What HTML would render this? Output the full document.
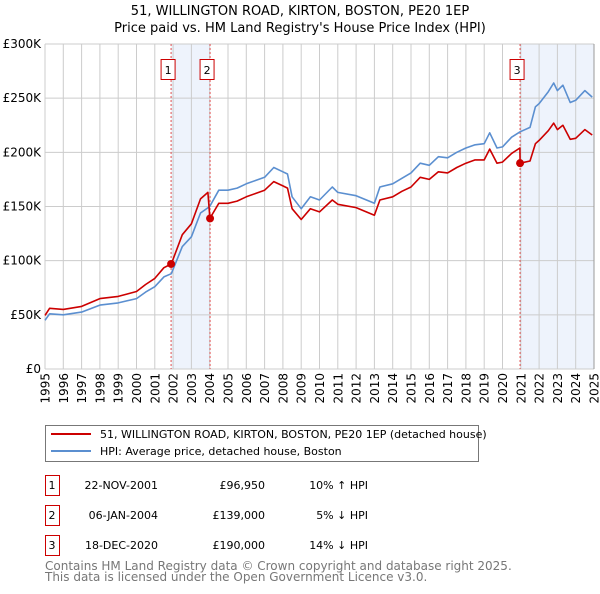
<!DOCTYPE html>
<html><head><meta charset="utf-8"><style>
body{margin:0;background:#fff;font-family:"DejaVu Sans","Liberation Sans",sans-serif;}
svg text{font-family:"DejaVu Sans","Liberation Sans",sans-serif;}
</style></head><body>
<svg id="chart" width="600" height="590" viewBox="0 0 600 590" xmlns="http://www.w3.org/2000/svg">
<text x="300" y="15" text-anchor="middle" font-size="13">51, WILLINGTON ROAD, KIRTON, BOSTON, PE20 1EP</text>
<text x="300" y="32" text-anchor="middle" font-size="13">Price paid vs. HM Land Registry's House Price Index (HPI)</text>
<g id="plot"></g>
<g>
<rect x="45.5" y="425.5" width="433" height="36" fill="#fff" stroke="#777" stroke-width="1"/>
<line x1="51" y1="434" x2="91" y2="434" stroke="#cc0000" stroke-width="2"/>
<text x="100" y="438" font-size="11">51, WILLINGTON ROAD, KIRTON, BOSTON, PE20 1EP (detached house)</text>
<line x1="51" y1="451" x2="91" y2="451" stroke="#5b8fd0" stroke-width="2"/>
<text x="100" y="455" font-size="11">HPI: Average price, detached house, Boston</text>
</g>
<g id="table" font-size="11"></g>
<text x="45" y="570" font-size="12" fill="#777">Contains HM Land Registry data © Crown copyright and database right 2025.</text>
<text x="45" y="581" font-size="12" fill="#777">This data is licensed under the Open Government Licence v3.0.</text>
</svg>
<script>
const hpiYears=[1995,1995.25,1996,1997,1998,1999,2000,2000.5,2001,2001.5,2001.9,2002.5,2003,2003.5,2004,2004.5,2005,2005.5,2006,2006.5,2007,2007.5,2008,2008.25,2008.5,2009,2009.5,2010,2010.7,2011,2012,2013,2013.3,2014,2014.5,2015,2015.5,2016,2016.5,2017,2017.5,2018,2018.5,2019,2019.3,2019.7,2020,2020.5,2020.96,2021.5,2021.8,2022,2022.5,2022.8,2023,2023.3,2023.7,2024,2024.5,2024.9];
const hpiValues=[45,51,50,52.5,59,61,65,71,76,85,88,113,122,144,150,165,165,167,171,174,177,186,182,180,159,148,159,156,168,163,160,153,168,171,176,181,190,188,196,195,200,204,207,208,218,204,205,214,219,223,242,245,256,264,257,262,246,248,257,251];
const priceYears=[1995,1995.25,1996,1997,1998,1999,2000,2000.5,2001,2001.5,2001.9,2002.5,2003,2003.5,2003.9,2004.01,2004.5,2005,2005.5,2006,2006.5,2007,2007.5,2008,2008.25,2008.5,2009,2009.5,2010,2010.7,2011,2012,2013,2013.3,2014,2014.5,2015,2015.5,2016,2016.5,2017,2017.5,2018,2018.5,2019,2019.3,2019.7,2020,2020.5,2020.95,2020.96,2021.5,2021.8,2022,2022.5,2022.8,2023,2023.3,2023.7,2024,2024.5,2024.9];
const priceValues=[49.5,56,55,57.8,65,67,71.5,78,83.6,93.5,96.95,124,134,157,163,139,153,153,155,159,162,165,173,169,167,148,138,148,145,156,152,149,142,156,159,164,168,177,175,182,181,186,190,193,193,203,190,191,199,204,190,192,208,211,220,227,221,225,212,213,221,216];
const saleYears=[2001.89,2004.02,2020.96];
const salePrices=[96.95,139,190];
const saleLabels=["1","2","3"];
const saleDates=["22-NOV-2001","06-JAN-2004","18-DEC-2020"];
const salePriceText=["£96,950","£139,000","£190,000"];
const saleHpiText=["10% ↑ HPI","5% ↓ HPI","14% ↓ HPI"];
const yTicks=[0,50,100,150,200,250,300];
const yTickLabels=["£0","£50K","£100K","£150K","£200K","£250K","£300K"];
const xTicks=[1995,1996,1997,1998,1999,2000,2001,2002,2003,2004,2005,2006,2007,2008,2009,2010,2011,2012,2013,2014,2015,2016,2017,2018,2019,2020,2021,2022,2023,2024,2025];

const NS="http://www.w3.org/2000/svg";
const X0=45,X1=594,Y0=369,Y1=44;
const xs=y=>X0+(y-1995)/30*(X1-X0);
const ys=v=>Y0-v/300*(Y0-Y1);
const plot=document.getElementById('plot');
function mk(tag,attrs,parent){const e=document.createElementNS(NS,tag);for(const k in attrs)e.setAttribute(k,attrs[k]);(parent||plot).appendChild(e);return e;}
[[0,1],[2,null]].forEach((p,i)=>{
  const a=xs(saleYears[p[0]]),b=p[1]===null?X1:xs(saleYears[p[1]]);
  const r=mk('rect',{x:a,y:Y1,width:b-a,height:Y0-Y1,fill:'#eef3fc'});
  
  
});
yTicks.forEach((t,i)=>{
  const g=mk('line',{x1:X0,x2:X1,y1:ys(t),y2:ys(t),stroke:'#ccc','stroke-width':1});
  
  
  const l=mk('text',{x:X0-4,y:ys(t)+4,'text-anchor':'end','font-size':12});
  
  
  l.textContent=yTickLabels[i];
});
xTicks.forEach(t=>{
  const g=mk('line',{x1:xs(t),x2:xs(t),y1:Y1,y2:Y0,stroke:'#ccc','stroke-width':1});
  
  
  const lx=xs(t)+4.5,ly=373;
  const l=mk('text',{x:lx,y:ly,'text-anchor':'end','font-size':12,transform:'rotate(-90 '+lx+' '+ly+')'});
  
  
  l.textContent=String(t);
});
saleYears.forEach((s,i)=>{
  const l=mk('line',{x1:xs(s),x2:xs(s),y1:Y1,y2:Y0,stroke:'#e05050','stroke-width':1,'stroke-dasharray':'2,2'});
  
  
});
function line(xsArr,vals,color,name){
  const d=xsArr.map((y,i)=>(i?'L':'M')+xs(y).toFixed(1)+','+ys(vals[i]).toFixed(1)).join('');
  const p=mk('path',{d:d,fill:'none',stroke:color,'stroke-width':1.6,'stroke-linejoin':'round'});
  
  
}
line(hpiYears,hpiValues,'#5b8fd0','hpi-line');
line(priceYears,priceValues,'#cc0000','price-paid-line');
saleYears.forEach((s,i)=>{
  const c=mk('circle',{cx:xs(s),cy:ys(salePrices[i]),r:4,fill:'#cc0000'});
  
  
  const bx=xs(s)-10;
  const r=mk('rect',{x:bx,y:59.5,width:14,height:20,fill:'#fff',stroke:'#cc0000','stroke-width':1});
  
  
  const t=mk('text',{x:bx+7,y:74,'text-anchor':'middle','font-size':11});
  
  
  t.textContent=saleLabels[i];
});
const ax=mk('line',{x1:X1,x2:X1,y1:Y1,y2:Y0,stroke:'#999','stroke-width':1});


const table=document.getElementById('table');
saleLabels.forEach((lab,i)=>{
  const y=475+i*30;
  const b=mk('rect',{x:45.5,y:y+0.5,width:14,height:20,fill:'#fff',stroke:'#cc0000','stroke-width':1},table);
  
  
  const cells=[[52,'middle',lab,'table-number'],[158,'end',saleDates[i],'table-date'],[265,'end',salePriceText[i],'table-price'],[368,'end',saleHpiText[i],'table-hpi-change']];
  cells.forEach(c=>{
    const t=mk('text',{x:c[0],y:y+14,'text-anchor':c[1]},table);
    
    
    t.textContent=c[2];
  });
});
</script>
</body></html>
